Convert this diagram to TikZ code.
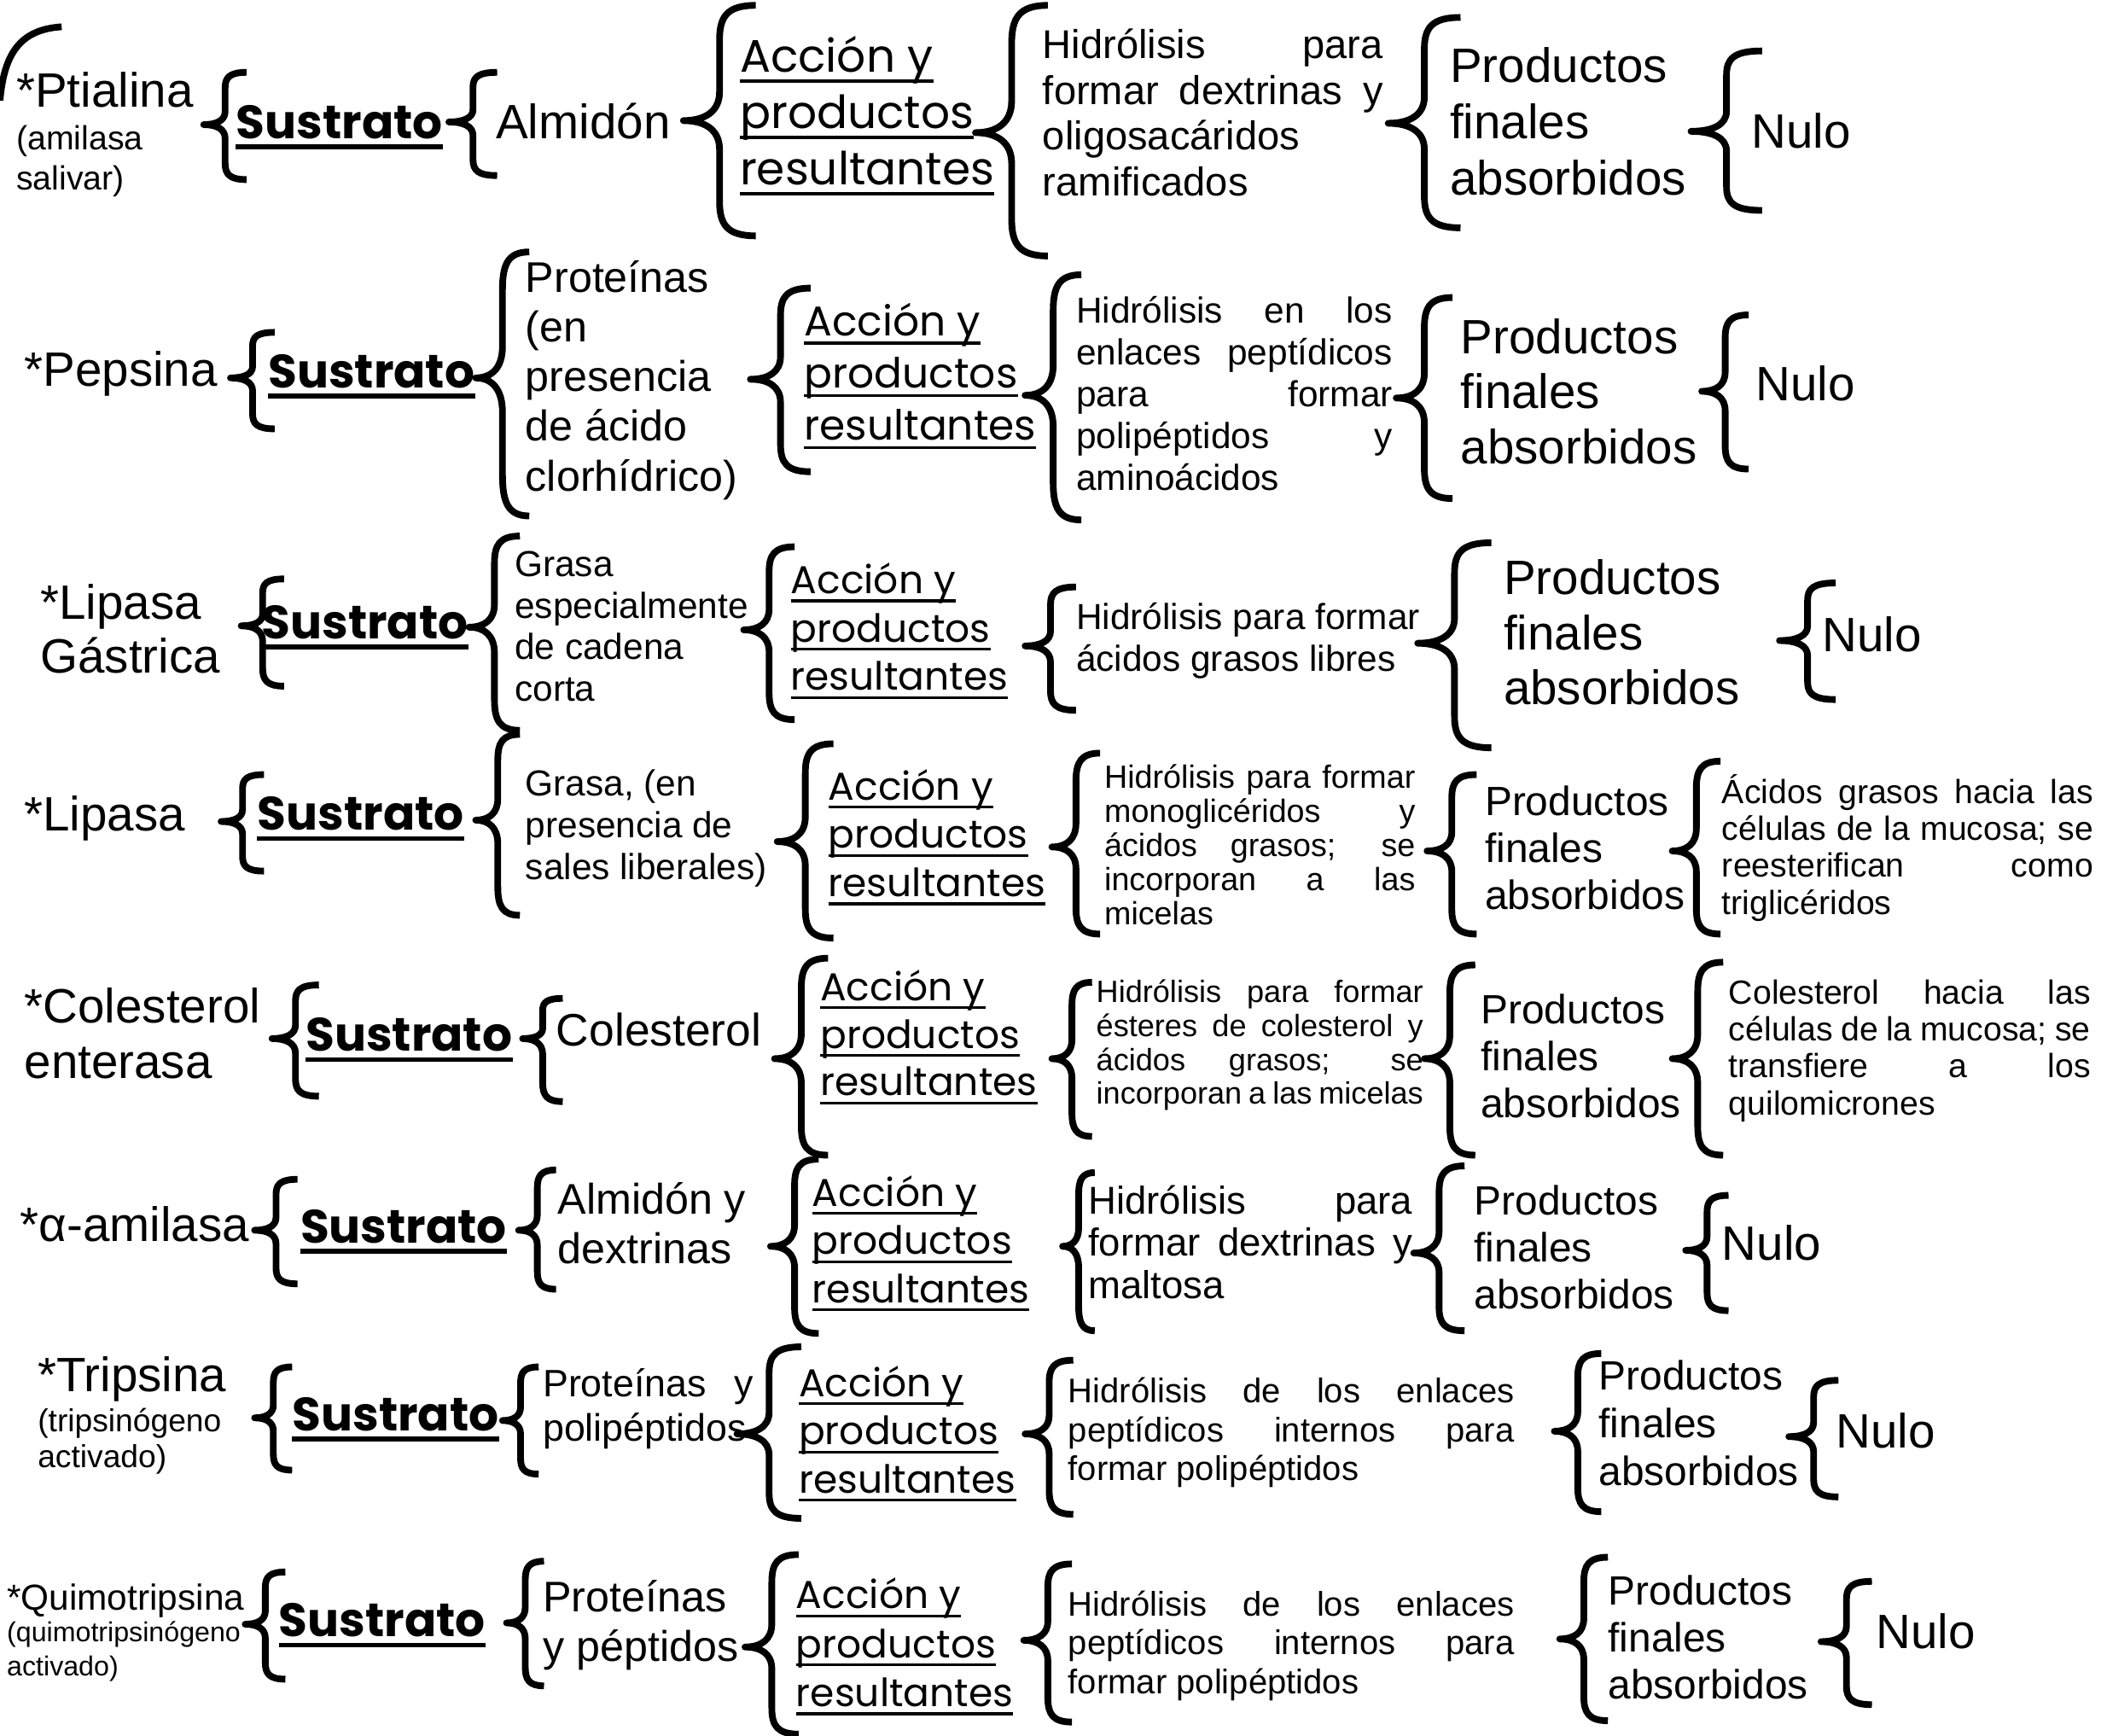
\documentclass[tikz,border=0pt]{standalone}
\usepackage{fontspec}
\setmainfont{Liberation Sans}
\newfontfamily\gotica{Poppins}
\colorlet{gris}{black!45}
\IfFileExists{pdfrender.sty}{\usepackage{pdfrender}%
  \newcommand{\sustrato}{\textpdfrender{TextRenderingMode=FillStroke,LineWidth=1.2pt,FillColor=gris,StrokeColor=black}{Sustrato}}}%
  {\newcommand{\sustrato}{\textcolor{black!70}{Sustrato}}}
\newsavebox{\cajasub}
\newcommand{\subr}[1]{\sbox{\cajasub}{#1}\rlap{\rule[-0.22em]{\wd\cajasub}{0.07em}}\usebox{\cajasub}}
\newcommand{\accion}{\subr{Acción y}\\\subr{productos}\\\subr{resultantes}}
\newcommand{\prodfin}{Productos\\finales\\absorbidos}
% llave: punta x, y arriba, y abajo, y punta, ancho
\newcommand{\llave}[5]{%
  \pgfmathsetmacro{\lA}{#4-#2}\pgfmathsetmacro{\lB}{#3-#4}%
  \draw[llave] ({#1+#5},#2) .. controls ({#1+0.6*#5},#2) and ({#1+0.5*#5},{#2+0.1*\lA}) .. ({#1+0.5*#5},{#2+0.3*\lA})
    -- ({#1+0.5*#5},{#4-0.25*\lA}) .. controls ({#1+0.5*#5},{#4-0.08*\lA}) and ({#1+0.3*#5},#4) .. (#1,#4)
    .. controls ({#1+0.3*#5},#4) and ({#1+0.5*#5},{#4+0.08*\lB}) .. ({#1+0.5*#5},{#4+0.25*\lB})
    -- ({#1+0.5*#5},{#3-0.3*\lB}) .. controls ({#1+0.5*#5},{#3-0.1*\lB}) and ({#1+0.6*#5},#3) .. ({#1+#5},#3);}

\begin{document}
\begin{tikzpicture}[x=1pt,y=-1pt,
  llave/.style={line width=5pt,line join=round},
  txt/.style 2 args={font=\fontsize{#1}{#2}\selectfont,anchor=west,inner sep=0pt,align=left,
    execute at begin node={\hyphenpenalty=10000\tolerance=10000\strut},execute at end node=\strut},
  acc/.style 2 args={txt={#1}{#2},font=\fontsize{#1}{#2}\gotica},
  parrafo/.style={align=justify,text width=#1},
  sus/.style={font=\fontsize{35}{40}\gotica\bfseries,anchor=west,inner sep=0pt,text depth=6pt}]
\useasboundingbox (0,0) rectangle (1568,1295);
% llave de arriba a la izquierda (cortada)
\draw[llave] (46,20) .. controls (15,22) and (3,40) .. (0,75);
% fila 1: Ptialina
\node[txt={36}{41}] (enz1) at (12,72) {*Ptialina};
\node[txt={25}{30}] (nota1) at (12,122) {(amilasa\\salivar)};
\node[sus] (sus1) at (176,94) {\sustrato};
\node[txt={36}{41}] (sub1) at (370,95) {Almidón};
\node[acc={34}{42}] (acc1) at (552,89) {\accion};
\node[txt={30}{34.3},parrafo=254] (hid1) at (778,88) {Hidrólisis para\linebreak formar dextrinas y\linebreak oligosacáridos\\ramificados};
\node[txt={36}{42}] (prod1) at (1082,97) {\prodfin};
\node[txt={36}{41}] (nulo1) at (1307,102) {Nulo};
\llave{152}{54}{134}{93}{32}
\llave{335}{54}{131}{91}{36}
\llave{510}{4}{176}{90}{54}
\llave{728}{4}{191}{99}{54}
\llave{1036}{13}{170}{92}{54}
\llave{1262}{38}{157}{98}{53}
% fila 2: Pepsina
\node[txt={36}{41}] (enz2) at (18,280) {*Pepsina};
\node[sus] (sus2) at (200,280) {\sustrato};
\node[txt={32}{37}] (sub2) at (392,286) {Proteínas\\(en\\presencia\\de ácido\\clorhídrico)};
\node[acc={31}{39}] (acc2) at (600,283) {\accion};
\node[txt={27}{31.2},parrafo=236] (hid2) at (803,297) {Hidrólisis en los\linebreak enlaces peptídicos\linebreak para formar\linebreak polipéptidos y\linebreak aminoácidos};
\node[txt={36}{41}] (prod2) at (1090,298) {\prodfin};
\node[txt={36}{41}] (nulo2) at (1310,291) {Nulo};
\llave{172}{248}{320}{282}{33}
\llave{355}{188}{385}{282}{40}
\llave{560}{215}{352}{283}{45}
\llave{765}{205}{388}{295}{42}
\llave{1042}{222}{372}{297}{42}
\llave{1270}{235}{350}{292}{35}
% fila 3: Lipasa gástrica
\node[txt={36}{40}] (enz3) at (30,475) {*Lipasa\\Gástrica};
\node[sus] (sus3) at (195,467) {\sustrato};
\node[txt={27}{31}] (sub3) at (384,472) {Grasa\\especialmente\\de cadena\\corta};
\node[acc={29}{36}] (acc3) at (590,473) {\accion};
\node[txt={27}{31}] (hid3) at (803,480) {Hidrólisis para formar\\ácidos grasos libres};
\node[txt={36}{41}] (prod3) at (1122,478) {\prodfin};
\node[txt={36}{41}] (nulo3) at (1360,478) {Nulo};
\llave{180}{432}{512}{467}{32}
\llave{350}{400}{545}{468}{38}
\llave{555}{408}{537}{470}{38}
\llave{765}{438}{530}{482}{38}
\llave{1058}{405}{558}{480}{55}
\llave{1328}{435}{522}{478}{42}
% fila 4: Lipasa
\node[txt={36}{41}] (enz4) at (18,612) {*Lipasa};
\node[sus] (sus4) at (192,610) {\sustrato};
\node[txt={27}{31}] (sub4) at (392,620) {Grasa, (en\\presencia de\\sales liberales)};
\node[acc={29}{36}] (acc4) at (618,627) {\accion};
\node[txt={24}{25.5},parrafo=232] (hid4) at (824,634) {Hidrólisis para formar\linebreak monoglicéridos y\linebreak ácidos grasos; se\linebreak incorporan a las\linebreak micelas};
\node[txt={30.5}{35}] (prod4) at (1108,638) {\prodfin};
\node[txt={25}{27.6},parrafo=277] (fin4) at (1285,634) {Ácidos grasos hacia las\linebreak células de la mucosa; se\linebreak reesterifican como\linebreak triglicéridos};
\llave{165}{578}{650}{613}{32}
\llave{355}{548}{683}{612}{33}
\llave{580}{555}{700}{628}{42}
\llave{785}{562}{697}{632}{36}
\llave{1065}{578}{697}{635}{37}
\llave{1248}{568}{697}{635}{36}
% fila 5: Colesterol enterasa
\node[txt={36}{41}] (enz5) at (18,777) {*Colesterol\\enterasa};
\node[sus] (sus5) at (228,775) {\sustrato};
\node[txt={34}{39}] (sub5) at (415,773) {Colesterol};
\node[acc={29}{35.5}] (acc5) at (612,776) {\accion};
\node[txt={23}{25.3},parrafo=244] (hid5) at (818,781) {Hidrólisis para formar\linebreak ésteres de colesterol y\linebreak ácidos grasos; se\linebreak incorporan a las micelas};
\node[txt={30.5}{35}] (prod5) at (1105,793) {\prodfin};
\node[txt={25}{27.6},parrafo=270] (fin5) at (1290,785) {Colesterol hacia las\linebreak células de la mucosa; se\linebreak transfiere a los\linebreak quilomicrones};
\llave{203}{735}{818}{775}{35}
\llave{390}{745}{822}{775}{30}
\llave{578}{715}{862}{790}{40}
\llave{785}{733}{848}{790}{30}
\llave{1063}{720}{862}{790}{38}
\llave{1248}{718}{862}{790}{38}
% fila 6: alfa-amilasa
\node[txt={36}{41}] (enz6) at (15,918) {*α-amilasa};
\node[sus] (sus6) at (224,918) {\sustrato};
\node[txt={32}{37}] (sub6) at (416,918) {Almidón y\\dextrinas};
\node[acc={29}{36}] (acc6) at (606,930) {\accion};
\node[txt={29}{31.5},parrafo=242] (hid6) at (812,931) {Hidrólisis para\linebreak formar dextrinas y\linebreak maltosa};
\node[txt={30.5}{35}] (prod6) at (1100,936) {\prodfin};
\node[txt={36}{41}] (nulo6) at (1285,932) {Nulo};
\llave{190}{880}{958}{918}{32}
\llave{387}{873}{962}{918}{28}
\llave{575}{865}{995}{930}{36}
\llave{793}{875}{993}{930}{24}
\llave{1055}{870}{993}{935}{38}
\llave{1258}{892}{978}{933}{32}
% fila 7: Tripsina
\node[txt={36}{41}] (enz7) at (28,1030) {*Tripsina};
\node[txt={23.7}{27}] (nota7) at (28,1077) {(tripsinógeno\\activado)};
\node[sus] (sus7) at (218,1058) {\sustrato};
\node[txt={28.5}{33},parrafo=157] (sub7) at (405,1052) {Proteínas y\linebreak polipéptidos};
\node[acc={29}{36}] (acc7) at (596,1072) {\accion};
\node[txt={25.5}{29},parrafo=333] (hid7) at (797,1070) {Hidrólisis de los enlaces\linebreak peptídicos internos para\linebreak formar polipéptidos};
\node[txt={30.5}{35.5}] (prod7) at (1193,1067) {\prodfin};
\node[txt={36}{41}] (nulo7) at (1370,1072) {Nulo};
\llave{190}{1020}{1097}{1058}{28}
\llave{375}{1020}{1100}{1060}{27}
\llave{550}{1005}{1133}{1070}{48}
\llave{765}{1015}{1130}{1070}{36}
\llave{1160}{1010}{1128}{1068}{35}
\llave{1335}{1030}{1117}{1072}{37}
% fila 8: Quimotripsina
\node[txt={27}{31}] (enz8) at (5,1195) {*Quimotripsina};
\node[txt={20.5}{25}] (nota8) at (5,1234) {(quimotripsinógeno\\activado)};
\node[sus] (sus8) at (208,1212) {\sustrato};
\node[txt={32}{37}] (sub8) at (405,1215) {Proteínas\\y péptidos};
\node[acc={29}{36.5}] (acc8) at (594,1231) {\accion};
\node[txt={25.5}{29},parrafo=333] (hid8) at (797,1229) {Hidrólisis de los enlaces\linebreak peptídicos internos para\linebreak formar polipéptidos};
\node[txt={30.5}{35}] (prod8) at (1200,1227) {\prodfin};
\node[txt={36}{41}] (nulo8) at (1400,1222) {Nulo};
\llave{183}{1173}{1253}{1212}{30}
\llave{378}{1165}{1258}{1211}{28}
\llave{556}{1160}{1294}{1229}{40}
\llave{764}{1167}{1285}{1224}{36}
\llave{1164}{1162}{1284}{1223}{36}
\llave{1359}{1180}{1272}{1225}{38}
% subrayado de "Sustrato"
\foreach \i in {1,...,8}
  \draw[line width=3.5pt] (sus\i.south west) -- (sus\i.south east);
\end{tikzpicture}
\end{document}
